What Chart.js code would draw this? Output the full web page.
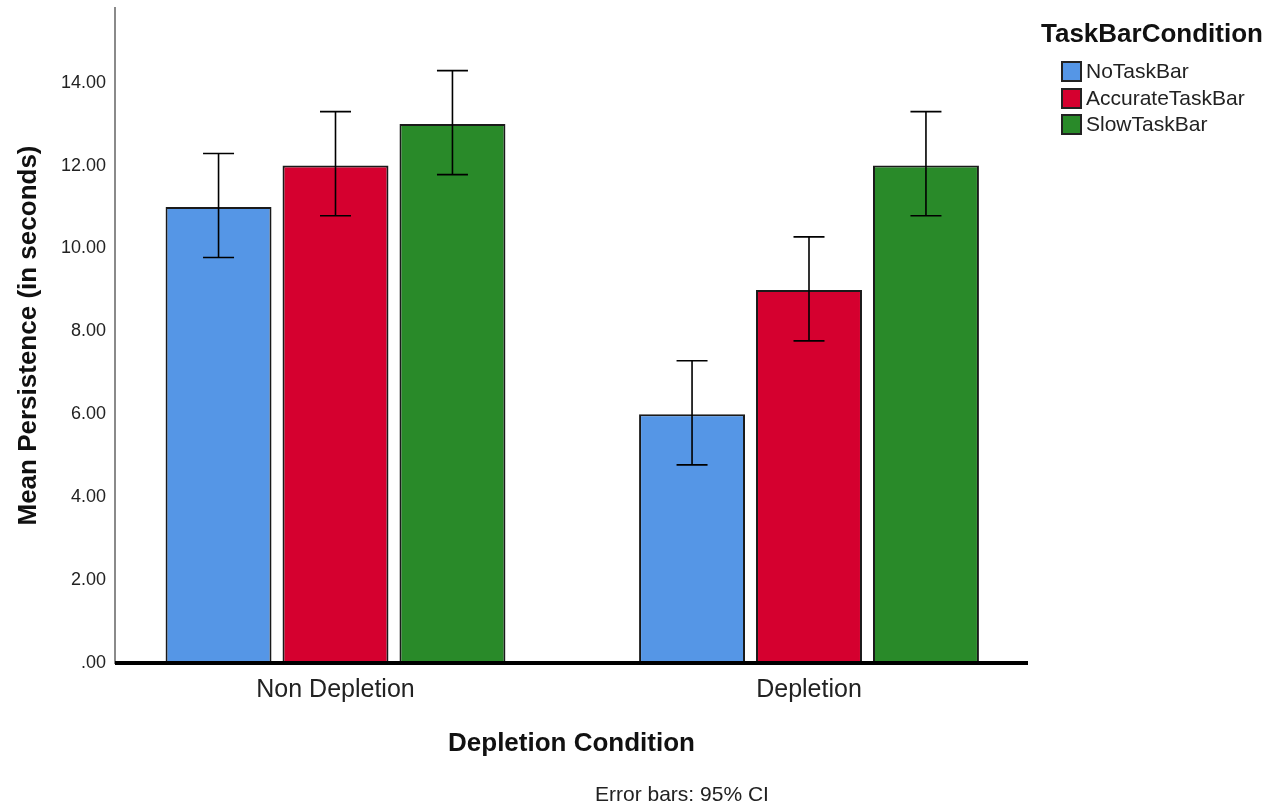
<!DOCTYPE html>
<html>
<head>
<meta charset="utf-8">
<script src="https://cdn.jsdelivr.net/npm/chart.js@4.4.1/dist/chart.umd.min.js"></script>
<style>
  html, body { margin: 0; padding: 0; background: #fff; }
  #wrap { position: relative; width: 1285px; height: 810px; }
  canvas { position: absolute; left: 0; top: 0; }
  .legend { position: absolute; left: 1041px; top: 16px; font-family: "Liberation Sans", Arial, sans-serif; color: #000; white-space: nowrap; }
  .legend .lt { font-weight: bold; font-size: 26px; line-height: 34px; margin-bottom: 8px; color: #111; }
  .legend .item { position: relative; height: 26.5px; padding-left: 45px; font-size: 21px; line-height: 26px; color: #222; }
  .legend .sw { position: absolute; left: 20px; top: 3px; width: 17px; height: 17px; border: 2px solid #222; }
  .note { position: absolute; left: 595px; top: 781px; font-family: "Liberation Sans", Arial, sans-serif; font-size: 21px; line-height: 26px; color: #222; }
</style>
</head>
<body>
<div id="wrap">
  <canvas id="c" width="1285" height="810"></canvas>
  <div class="legend" id="legend"></div>
  <div class="note">Error bars: 95% CI</div>
</div>
<script>
const categories = ["Non Depletion", "Depletion"];
const seriesNames = ["NoTaskBar", "AccurateTaskBar", "SlowTaskBar"];
const noTaskBar = [11.0, 6.0];
const accurateTaskBar = [12.0, 9.0];
const slowTaskBar = [13.0, 12.0];
const noTaskBarCI = [[9.78, 12.29], [4.78, 7.29]];
const accurateTaskBarCI = [[10.79, 13.3], [7.77, 10.28]];
const slowTaskBarCI = [[11.78, 14.29], [10.79, 13.3]];
const yTicks = [0, 2, 4, 6, 8, 10, 12, 14];
const colors = ["#5596e6", "#d5002f", "#298a29"];

const seriesValues = [noTaskBar, accurateTaskBar, slowTaskBar];
const seriesCI = [noTaskBarCI, accurateTaskBarCI, slowTaskBarCI];

// HTML legend
const leg = document.getElementById('legend');
leg.innerHTML = '<div class="lt">TaskBarCondition</div>' + seriesNames.map((n, i) =>
  '<div class="item"><span class="sw" style="background:' + colors[i] + '"></span>' + n + '</div>').join('');

const errorBars = {
  id: 'errorBars',
  afterDatasetsDraw(chart) {
    const ctx = chart.ctx;
    const y = chart.scales.y;
    ctx.save();
    ctx.strokeStyle = '#000';
    ctx.lineWidth = 1.6;
    chart.data.datasets.forEach((ds, di) => {
      const meta = chart.getDatasetMeta(di);
      meta.data.forEach((bar, i) => {
        const ci = seriesCI[di][i];
        const x = bar.x;
        const yLo = y.getPixelForValue(ci[0]);
        const yHi = y.getPixelForValue(ci[1]);
        const cap = 15.5;
        ctx.beginPath();
        ctx.moveTo(x, yLo); ctx.lineTo(x, yHi);
        ctx.moveTo(x - cap, yLo); ctx.lineTo(x + cap, yLo);
        ctx.moveTo(x - cap, yHi); ctx.lineTo(x + cap, yHi);
        ctx.stroke();
      });
    });
    // thick baseline on top
    const a = chart.chartArea;
    ctx.fillStyle = '#000';
    ctx.fillRect(a.left, y.getPixelForValue(0) - 2, a.right - a.left, 4);
    ctx.restore();
  }
};

const xMin = (115 - 335.5) / 473.5;
const xMax = 1 + (1028 - 809) / 473.5;

new Chart(document.getElementById('c'), {
  type: 'bar',
  data: {
    datasets: seriesNames.map((n, i) => ({
      label: n,
      data: seriesValues[i].map((v, k) => ({ x: k, y: v })),
      backgroundColor: colors[i],
      borderColor: '#1a1a1a',
      borderWidth: 2,
      borderSkipped: false,
      categoryPercentage: 0.741,
      barPercentage: 0.906
    }))
  },
  options: {
    responsive: false,
    animation: false,
    devicePixelRatio: 1,
    layout: { padding: { top: 8, right: 257, left: 0, bottom: 0 } },
    plugins: { legend: { display: false }, tooltip: { enabled: false } },
    scales: {
      x: {
        type: 'linear',
        offset: false,
        min: xMin,
        max: xMax,
        grid: { display: false, drawTicks: false, offset: false },
        border: { display: false },
        afterBuildTicks(s) { s.ticks = categories.map((c, k) => ({ value: k })); },
        afterFit(s) { s.height = 147; s.paddingLeft = 0; s.paddingRight = 0; },
        ticks: {
          callback: (v) => categories[v],
          font: { family: '"Liberation Sans", Arial, sans-serif', size: 25 },
          color: '#222',
          padding: 12,
          maxRotation: 0
        },
        title: {
          display: true,
          text: 'Depletion Condition',
          font: { family: '"Liberation Sans", Arial, sans-serif', size: 26, weight: 'bold' },
          color: '#111',
          padding: { bottom: 51, top: 0 }
        }
      },
      y: {
        min: 0,
        max: 15.8,
        grid: { display: false, drawTicks: false },
        border: { display: true, color: '#8a8a8a', width: 2 },
        afterBuildTicks(s) { s.ticks = yTicks.map(v => ({ value: v })); },
        afterFit(s) { s.width = 115; s.paddingTop = 0; s.paddingBottom = 0; },
        ticks: {
          callback: (v) => v === 0 ? '.00' : v.toFixed(2),
          font: { family: '"Liberation Sans", Arial, sans-serif', size: 18 },
          color: '#222',
          padding: 9
        },
        title: {
          display: true,
          text: 'Mean Persistence (in seconds)',
          font: { family: '"Liberation Sans", Arial, sans-serif', size: 26, weight: 'bold' },
          color: '#111',
          padding: { top: 13, bottom: 0 }
        }
      }
    }
  },
  plugins: [errorBars]
});
</script>
</body>
</html>
